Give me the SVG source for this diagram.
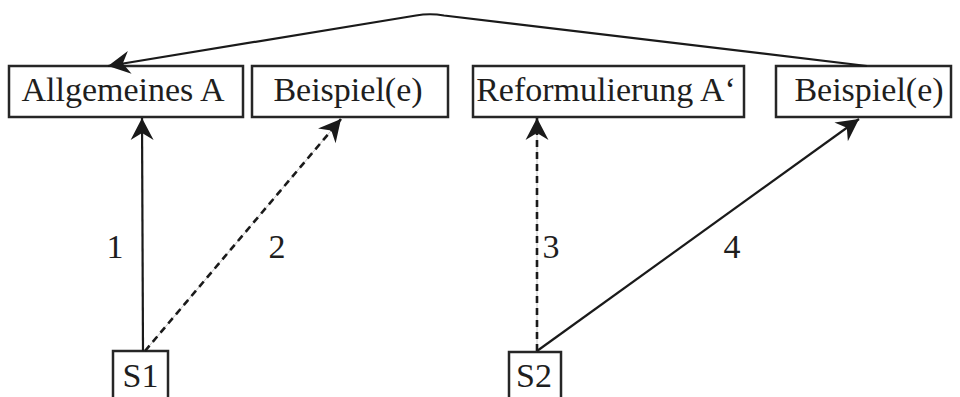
<svg xmlns="http://www.w3.org/2000/svg" width="960" height="397" viewBox="0 0 960 397">
  <style>
    .box { fill: #fff; stroke: #262626; stroke-width: 2.5; }
    .lbl { font-family: "Liberation Serif", "DejaVu Serif", serif; font-size: 34px; fill: #1e1e1e; text-anchor: middle; }
    .edge { fill: none; stroke: #1a1a1a; stroke-width: 2.2; }
    .dash { stroke-dasharray: 7 5; stroke-width: 2.6; }
    .hair { fill: none; stroke: #b8b8b8; stroke-width: 0.8; }
  </style>
  <defs>
    <marker id="head" markerUnits="userSpaceOnUse" viewBox="-23 -12 24 24" markerWidth="24" markerHeight="24" refX="0" refY="0" orient="auto">
      <path d="M0,0 L-22,-11.5 L-15,0 L-22,11.5 Z" fill="#1a1a1a"/>
    </marker>
  </defs>

  <!-- top row -->
  <g id="allgemeines">
    <rect class="box" x="9" y="66" width="234" height="51"/>
    <text class="lbl" x="123" y="101">Allgemeines A</text>
  </g>
  <g id="beispiel1">
    <rect class="box" x="252" y="66" width="196" height="51"/>
    <text class="lbl" x="348" y="101">Beispiel(e)</text>
  </g>
  <g id="reformulierung">
    <rect class="box" x="473" y="66" width="271" height="51"/>
    <text class="lbl" x="606" y="101">Reformulierung A‘</text>
  </g>
  <g id="beispiel2">
    <rect class="box" x="776" y="66" width="175" height="51"/>
    <text class="lbl" x="869" y="101">Beispiel(e)</text>
  </g>

  <!-- bottom row -->
  <g id="s1">
    <rect class="box" x="113" y="351" width="55" height="50"/>
    <text class="lbl" x="140.5" y="387">S1</text>
  </g>
  <g id="s2">
    <rect class="box" x="509" y="352" width="52" height="50"/>
    <text class="lbl" x="534" y="387">S2</text>
  </g>

  <!-- connectors -->
  <g id="connectors">
    <path class="edge" d="M867,66 L444,15.5 Q430,13 416,15.5 L108,66" marker-end="url(#head)"/>
    <path class="edge" d="M143,351 L142,118" marker-end="url(#head)"/>
    <path class="hair" d="M145,351 L341,119"/>
    <path class="edge dash" d="M145,351 L341,119" marker-end="url(#head)"/>
    <path class="hair" d="M537,351 L537,118"/>
    <path class="edge dash" d="M537,351 L537,118" marker-end="url(#head)"/>
    <path class="edge" d="M537,351 L859,119" marker-end="url(#head)"/>
    <text class="lbl" x="115" y="258">1</text>
    <text class="lbl" x="277" y="258">2</text>
    <text class="lbl" x="551" y="258">3</text>
    <text class="lbl" x="732" y="258">4</text>
  </g>
</svg>
